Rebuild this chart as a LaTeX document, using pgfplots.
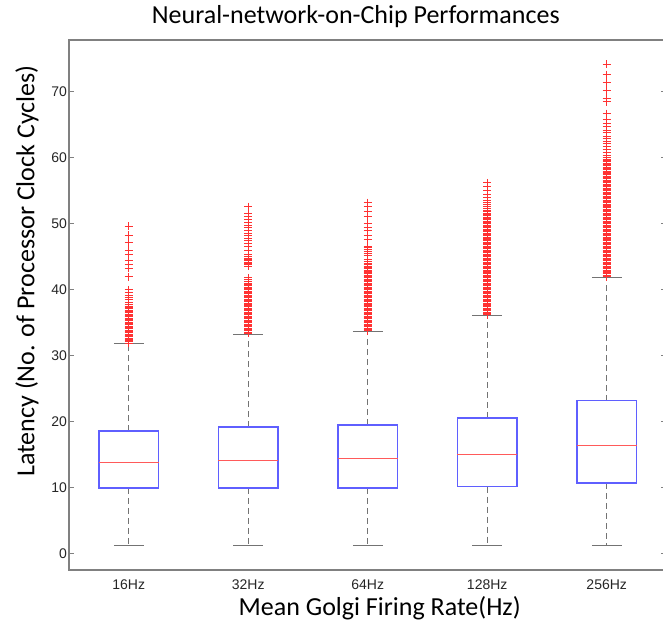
\documentclass[border=0pt]{standalone}
\usepackage{fontspec}
\setmainfont{Liberation Sans}
\newfontfamily\calibri{Carlito}
\usepackage{pgfplots}
\pgfplotsset{compat=1.18}
\usepgfplotslibrary{statistics}
\definecolor{axgray}{RGB}{128,128,128}
\definecolor{boxblue}{RGB}{95,95,255}
\definecolor{medred}{RGB}{255,90,90}
\definecolor{whgray}{RGB}{115,115,115}
\definecolor{outred}{RGB}{255,50,50}
\definecolor{ticktext}{RGB}{38,38,38}
\pgfplotsset{
  mybox/.style={
    boxplot/draw direction=y,
    boxplot/box extend=0.5,
    boxplot/whisker extend=0.25,
    boxplot/every box/.style={draw=boxblue, line width=1.1pt},
    boxplot/every median/.style={draw=medred, line width=0.8pt},
    boxplot/every whisker/.style={draw=whgray, line width=0.8pt},
    boxplot/draw/lower whisker/.code={%
      \draw[/pgfplots/boxplot/every whisker/.try, dash pattern=on 4.5pt off 3pt]
        (boxplot cs:\pgfplotsboxplotvalue{lower quartile}) --
        (boxplot cs:\pgfplotsboxplotvalue{lower whisker});
      \draw[/pgfplots/boxplot/every whisker/.try]
        (boxplot whisker cs:\pgfplotsboxplotvalue{lower whisker},0) --
        (boxplot whisker cs:\pgfplotsboxplotvalue{lower whisker},1);
    },
    boxplot/draw/upper whisker/.code={%
      \draw[/pgfplots/boxplot/every whisker/.try, dash pattern=on 4.5pt off 3pt]
        (boxplot cs:\pgfplotsboxplotvalue{upper quartile}) --
        (boxplot cs:\pgfplotsboxplotvalue{upper whisker});
      \draw[/pgfplots/boxplot/every whisker/.try]
        (boxplot whisker cs:\pgfplotsboxplotvalue{upper whisker},0) --
        (boxplot whisker cs:\pgfplotsboxplotvalue{upper whisker},1);
    },
  },
  outl/.style={only marks, mark=+, mark size=3pt, color=outred,
    mark options={draw=outred, line width=0.75pt, solid}},
}
\begin{document}
\begin{tikzpicture}
\begin{axis}[
  scale only axis,
  width=448.1pt, height=397.5pt,
  xmin=0.5, xmax=5.5, ymin=-2.45, ymax=77.85,
  axis line style={draw=axgray, line width=0.8pt},
  xtick={1,2,3,4,5},
  xticklabels={16Hz,32Hz,64Hz,128Hz,256Hz},
  x tick style={draw=none},
  ytick={0,10,20,30,40,50,60,70},
  y tick style={draw=axgray, line width=0.6pt},
  tick align=inside,
  major tick length=4pt,
  /pgf/number format/assume math mode=true,
  tick label style={font=\fontsize{10.5}{12}\selectfont, text=ticktext},
  xticklabel style={yshift=-4pt},
  yticklabel style={xshift=2pt},
  title={\calibri\fontsize{19.5}{22}\selectfont Neural-network-on-Chip Performances},
  title style={at={(axis description cs:0.48,1.0434)}, anchor=center, inner sep=0pt, yshift=-6pt},
  xlabel={\calibri\fontsize{19.5}{22}\selectfont Mean Golgi Firing Rate(Hz)},
  xlabel style={at={(axis description cs:0.52,-0.0717)}, anchor=center, inner sep=0pt},
  ylabel={\calibri\fontsize{19.5}{22}\selectfont Latency (No. of Processor Clock Cycles)},
  ylabel style={at={(axis description cs:-0.0703,0.564)}, anchor=center, inner sep=0pt},
]
% boxes
\addplot[mybox, boxplot prepared={draw position=1, lower whisker=1.2, lower quartile=10.0, median=13.9, upper quartile=18.6, upper whisker=31.8}] coordinates {};
\addplot[mybox, boxplot prepared={draw position=2, lower whisker=1.2, lower quartile=10.0, median=14.2, upper quartile=19.2, upper whisker=33.3}] coordinates {};
\addplot[mybox, boxplot prepared={draw position=3, lower whisker=1.2, lower quartile=10.0, median=14.5, upper quartile=19.5, upper whisker=33.7}] coordinates {};
\addplot[mybox, boxplot prepared={draw position=4, lower whisker=1.2, lower quartile=10.2, median=15.0, upper quartile=20.6, upper whisker=36.1}] coordinates {};
\addplot[mybox, boxplot prepared={draw position=5, lower whisker=1.2, lower quartile=10.7, median=16.4, upper quartile=23.2, upper whisker=41.9}] coordinates {};
% outliers
\addplot[outl] coordinates {(1,31.9) (1,32.1) (1,32.3) (1,32.5) (1,32.7) (1,32.9) (1,33.1) (1,33.3) (1,33.5) (1,33.7) (1,33.9) (1,34.1) (1,34.3) (1,34.5) (1,34.7) (1,34.9) (1,35.1) (1,35.3) (1,35.5) (1,35.7) (1,35.9) (1,36.1) (1,36.3) (1,36.5) (1,36.7) (1,36.9) (1,37.1) (1,37.3) (1,37.5) (1,37.8) (1,38.1) (1,38.5) (1,38.8) (1,39.2) (1,39.6) (1,40.0) (1,42.0) (1,43.3) (1,43.8) (1,44.5) (1,45.3) (1,46.0) (1,47.2) (1,48.3) (1,49.6)};
\addplot[outl] coordinates {(2,33.4) (2,33.6) (2,33.8) (2,34.0) (2,34.2) (2,34.4) (2,34.6) (2,34.8) (2,35.0) (2,35.2) (2,35.4) (2,35.6) (2,35.8) (2,36.0) (2,36.2) (2,36.4) (2,36.6) (2,36.8) (2,37.0) (2,37.2) (2,37.4) (2,37.6) (2,37.8) (2,38.0) (2,38.2) (2,38.4) (2,38.6) (2,38.8) (2,39.0) (2,39.2) (2,39.4) (2,39.6) (2,39.8) (2,40.0) (2,40.2) (2,40.4) (2,40.6) (2,40.8) (2,41.0) (2,41.2) (2,41.5) (2,41.8) (2,43.6) (2,43.8) (2,44.0) (2,44.2) (2,44.4) (2,44.6) (2,44.8) (2,45.1) (2,45.4) (2,46.0) (2,46.5) (2,47.0) (2,47.4) (2,47.8) (2,48.2) (2,48.6) (2,49.0) (2,49.4) (2,49.8) (2,50.2) (2,50.6) (2,51.1) (2,51.5) (2,52.6)};
\addplot[outl] coordinates {(3,33.8) (3,34.0) (3,34.2) (3,34.4) (3,34.6) (3,34.8) (3,35.0) (3,35.2) (3,35.4) (3,35.6) (3,35.8) (3,36.0) (3,36.2) (3,36.4) (3,36.6) (3,36.8) (3,37.0) (3,37.2) (3,37.4) (3,37.6) (3,37.8) (3,38.0) (3,38.2) (3,38.4) (3,38.6) (3,38.8) (3,39.0) (3,39.2) (3,39.4) (3,39.6) (3,39.8) (3,40.0) (3,40.2) (3,40.4) (3,40.6) (3,40.8) (3,41.0) (3,41.2) (3,41.4) (3,41.6) (3,41.8) (3,42.0) (3,42.2) (3,42.4) (3,42.6) (3,42.8) (3,43.0) (3,43.2) (3,43.4) (3,43.6) (3,43.8) (3,44.0) (3,44.3) (3,44.6) (3,45.2) (3,45.5) (3,45.8) (3,46.1) (3,46.4) (3,46.6) (3,47.6) (3,48.3) (3,49.0) (3,49.4) (3,50.1) (3,51.1) (3,51.8) (3,52.6) (3,53.2)};
\addplot[outl] coordinates {(4,36.2) (4,36.4) (4,36.6) (4,36.8) (4,37.0) (4,37.2) (4,37.4) (4,37.6) (4,37.8) (4,38.0) (4,38.2) (4,38.4) (4,38.6) (4,38.8) (4,39.0) (4,39.2) (4,39.4) (4,39.6) (4,39.8) (4,40.0) (4,40.2) (4,40.4) (4,40.6) (4,40.8) (4,41.0) (4,41.2) (4,41.4) (4,41.6) (4,41.8) (4,42.0) (4,42.2) (4,42.4) (4,42.6) (4,42.8) (4,43.0) (4,43.2) (4,43.4) (4,43.6) (4,43.8) (4,44.0) (4,44.2) (4,44.4) (4,44.6) (4,44.8) (4,45.0) (4,45.2) (4,45.4) (4,45.6) (4,45.8) (4,46.0) (4,46.2) (4,46.4) (4,46.6) (4,46.8) (4,47.0) (4,47.2) (4,47.4) (4,47.6) (4,47.8) (4,48.0) (4,48.2) (4,48.4) (4,48.6) (4,48.8) (4,49.0) (4,49.2) (4,49.4) (4,49.6) (4,49.8) (4,50.0) (4,50.2) (4,50.4) (4,50.6) (4,50.8) (4,51.0) (4,51.2) (4,51.4) (4,51.6) (4,51.8) (4,52.0) (4,52.3) (4,52.6) (4,52.9) (4,53.2) (4,53.6) (4,54.0) (4,54.5) (4,55.0) (4,55.6) (4,56.2)};
\addplot[outl] coordinates {(5,42.0) (5,42.2) (5,42.4) (5,42.6) (5,42.8) (5,43.0) (5,43.2) (5,43.4) (5,43.6) (5,43.8) (5,44.0) (5,44.2) (5,44.4) (5,44.6) (5,44.8) (5,45.0) (5,45.2) (5,45.4) (5,45.6) (5,45.8) (5,46.0) (5,46.2) (5,46.4) (5,46.6) (5,46.8) (5,47.0) (5,47.2) (5,47.4) (5,47.6) (5,47.8) (5,48.0) (5,48.2) (5,48.4) (5,48.6) (5,48.8) (5,49.0) (5,49.2) (5,49.4) (5,49.6) (5,49.8) (5,50.0) (5,50.2) (5,50.4) (5,50.6) (5,50.8) (5,51.0) (5,51.2) (5,51.4) (5,51.6) (5,51.8) (5,52.0) (5,52.2) (5,52.4) (5,52.6) (5,52.8) (5,53.0) (5,53.2) (5,53.4) (5,53.6) (5,53.8) (5,54.0) (5,54.2) (5,54.4) (5,54.6) (5,54.8) (5,55.0) (5,55.2) (5,55.4) (5,55.6) (5,55.8) (5,56.0) (5,56.2) (5,56.4) (5,56.6) (5,56.8) (5,57.0) (5,57.2) (5,57.4) (5,57.6) (5,57.8) (5,58.0) (5,58.2) (5,58.4) (5,58.6) (5,58.8) (5,59.0) (5,59.2) (5,59.4) (5,59.6) (5,59.8) (5,60.0) (5,60.4) (5,60.8) (5,61.2) (5,61.7) (5,62.1) (5,62.5) (5,62.9) (5,63.3) (5,63.8) (5,64.2) (5,64.7) (5,65.2) (5,65.8) (5,66.7) (5,68.5) (5,69.0) (5,70.2) (5,71.4) (5,72.6) (5,74.2)};
\end{axis}
\pgfresetboundingbox
\path[use as bounding box] ([shift={(-51.75pt,-42pt)}]current axis.south west) rectangle ++(497.25pt,469.5pt);
\end{tikzpicture}
\end{document}
